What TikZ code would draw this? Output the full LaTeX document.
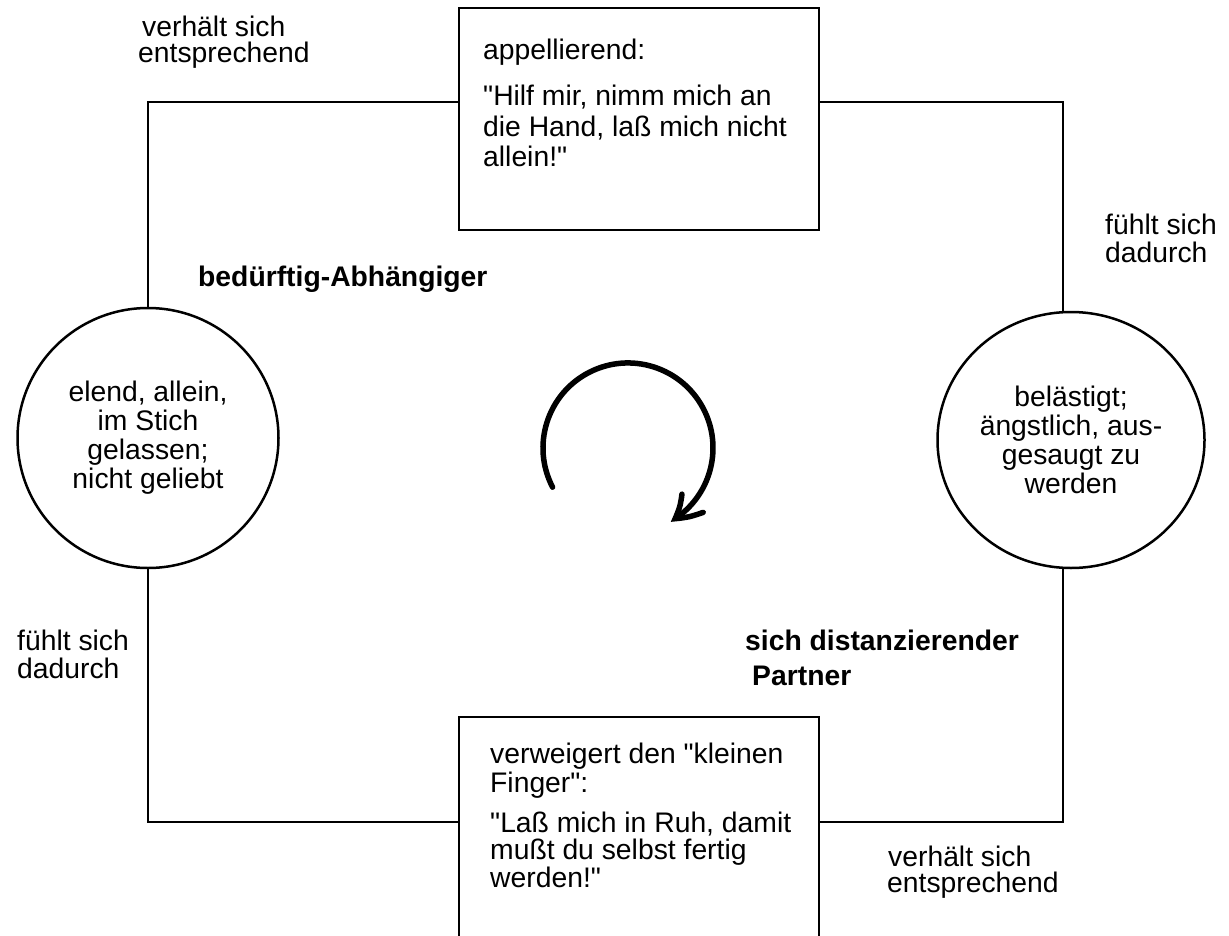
\documentclass[tikz,border=0pt]{standalone}
\usepackage{fontspec}
\setmainfont{Liberation Sans}[Ligatures=TeXOff]
\usetikzlibrary{shapes.geometric,arrows.meta,bending}
\newcommand\leftlines[2]{\vtop{\baselineskip=#1\relax\halign{##\hfil\cr#2\crcr}}}
\begin{document}
\begin{tikzpicture}[x=1pt,y=-1pt,
  every node/.style={font=\fontsize{28.3pt}{29pt}\selectfont},
  conn/.style={line width=2.5pt},
  boxnode/.style={draw,line width=2.5pt,rectangle,minimum width=360pt,inner sep=0pt},
  roundnode/.style={draw,line width=2.5pt,ellipse,inner sep=0pt,align=center},
  lbl/.style={anchor=base west,inner sep=0pt},
  boldlbl/.style={anchor=base west,inner sep=0pt,font=\fontsize{28.3pt}{35pt}\selectfont\bfseries},
  cyclearrow/.style={line width=5.5pt,line cap=round,-{Straight Barb[length=24pt,width=28pt,line cap=round,bend]}}]
\useasboundingbox (0,0) rectangle (1229,936);
\clip (0,0) rectangle (1229,936);

% boxes and circles
\node[boxnode,minimum height=222pt] (tb) at (639,119) {};
\node[boxnode,minimum height=240pt] (bb) at (639,837) {};
\node[roundnode,minimum width=261pt,minimum height=260pt] (lc) at (148,438) {elend, allein,\\im Stich\\gelassen;\\nicht geliebt};
\node[roundnode,minimum width=267pt,minimum height=256pt] (rc) at (1071,440) {belästigt;\\ängstlich, aus-\\gesaugt zu\\werden};

% helper coordinates for connector levels
\coordinate (yT) at (0,102);
\coordinate (yB) at (0,822);
\coordinate (xR) at (1063,0);

% connectors
\draw[conn] (lc.north) |- (tb.west |- yT);
\draw[conn] (tb.east |- yT) -| (rc.north -| xR);
\draw[conn] (lc.south) |- (bb.west |- yB);
\draw[conn] (bb.east |- yB) -| (rc.south -| xR);

% box texts
\node[lbl] (t1) at (483,60) {appellierend:};
\node[lbl] (t2) at (483,106) {\leftlines{30.5pt}{"Hilf mir, nimm mich an\cr die Hand, laß mich nicht\cr allein!"}};
\node[lbl] (t3) at (490,763) {\leftlines{29pt}{verweigert den "kleinen\cr Finger":}};
\node[lbl] (t4) at (490,832) {\leftlines{27.5pt}{"Laß mich in Ruh, damit\cr mußt du selbst fertig\cr werden!"}};

% labels
\node[lbl] (l1) at (138,37) {\leftlines{26pt}{\kern4pt verhält sich\cr entsprechend}};
\node[lbl] (l2) at (1105,235) {\leftlines{28pt}{fühlt sich\cr dadurch}};
\node[boldlbl] (l3) at (198,287) {bedürftig-Abhängiger};
\node[lbl] (l4) at (17,650) {\leftlines{28pt}{fühlt sich\cr dadurch}};
\node[boldlbl] (l5) at (745,650) {\leftlines{35pt}{sich distanzierender\cr\kern7pt Partner}};
\node[lbl] (l6) at (887,866) {\leftlines{26pt}{\kern1pt verhält sich\cr entsprechend}};

% circular arrow
\draw[cyclearrow] (552.6,487.2) arc[start angle=152.5,end angle=420,radius=85];
\end{tikzpicture}
\end{document}
